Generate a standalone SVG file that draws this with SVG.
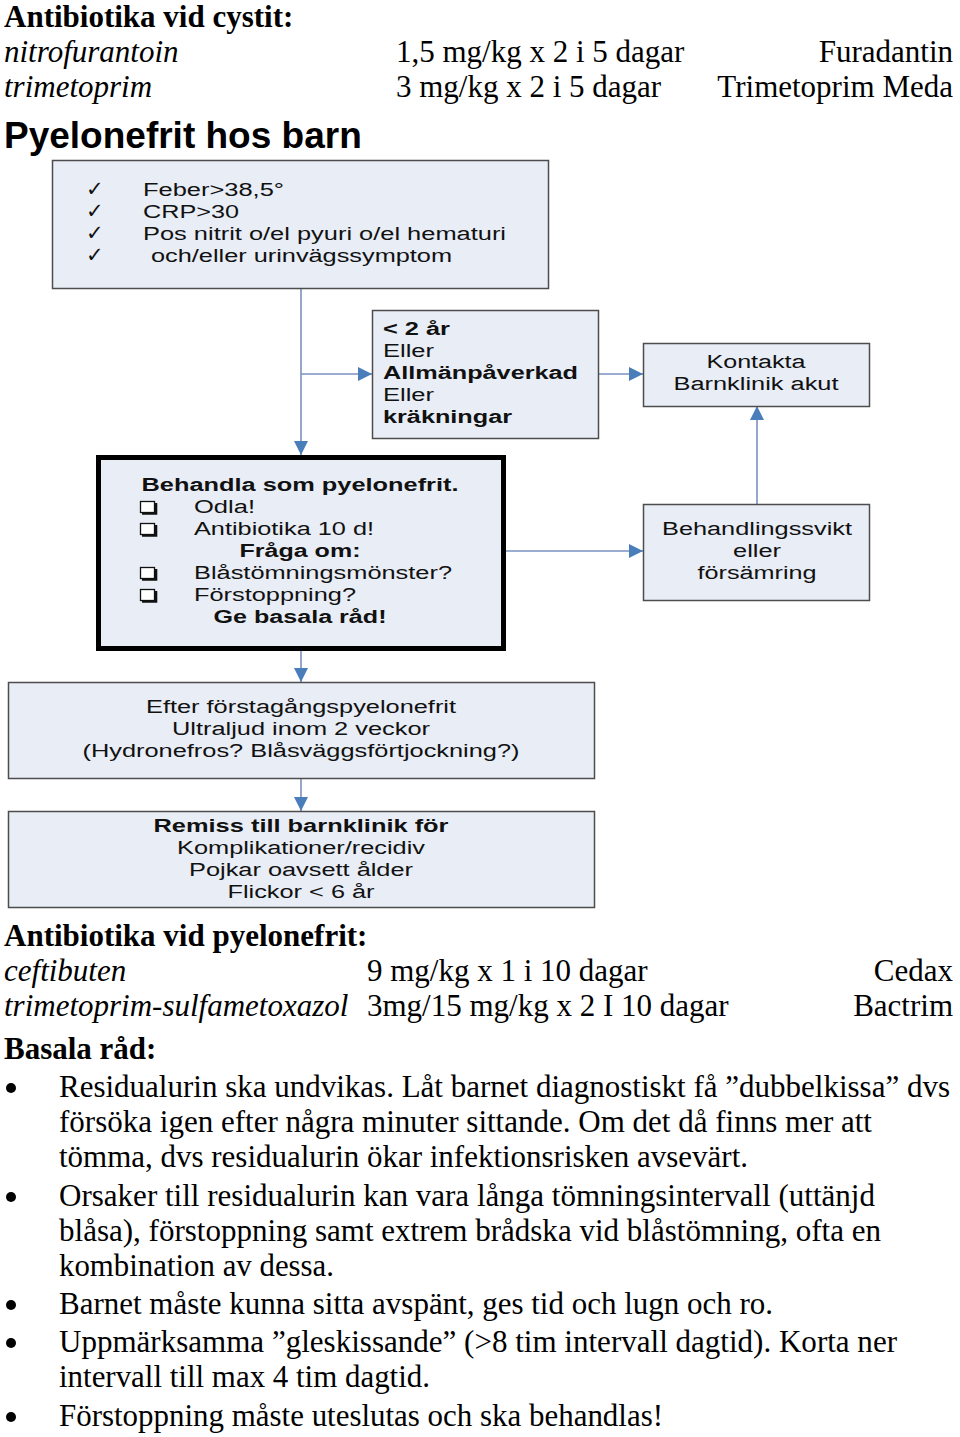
<svg xmlns="http://www.w3.org/2000/svg" width="960" height="1437" viewBox="0 0 960 1437">
<defs>
<marker id="arr" markerUnits="userSpaceOnUse" markerWidth="16" markerHeight="14" refX="14" refY="7" orient="auto">
<path d="M0,0 L14,7 L0,14 Z" fill="#4a7ebb"/>
</marker>
<g id="cb">
<rect x="1.5" y="1.5" width="14" height="11" fill="#fff" stroke="#111" stroke-width="1.3"/>
<path d="M3,13.5 H17 V3" fill="none" stroke="#111" stroke-width="2.6"/>
</g>
<style>
.s{font-family:"Liberation Serif","Times New Roman",serif;font-size:31px;fill:#000}
.i{font-style:italic}
.b{font-weight:bold}
.f{font-family:"Liberation Sans",Arial,sans-serif;font-size:18px;fill:#111}
.fb{font-weight:bold}
.c{text-anchor:middle}
.r{text-anchor:end}
.box{fill:#e8edf6;stroke:#4d4d4d;stroke-width:1.5}
.con{stroke:#7a92bf;stroke-width:1.6;fill:none;marker-end:url(#arr)}
.sym{font-family:"DejaVu Sans",sans-serif;font-size:21px;fill:#111}
.dot{fill:#000}
</style>
</defs>
<rect width="960" height="1437" fill="#fff"/>

<g id="header">
<text class="s b" x="4" y="27">Antibiotika vid cystit:</text>
<text class="s i" x="4" y="62">nitrofurantoin</text>
<text class="s" x="396" y="62">1,5 mg/kg x 2 i 5 dagar</text>
<text class="s r" x="953" y="62">Furadantin</text>
<text class="s i" x="4" y="97">trimetoprim</text>
<text class="s" x="396" y="97">3 mg/kg x 2 i 5 dagar</text>
<text class="s r" x="953" y="97">Trimetoprim Meda</text>
<text x="4" y="148" font-family="Liberation Sans, Arial, sans-serif" font-weight="bold" font-size="37" fill="#000">Pyelonefrit hos barn</text>
</g>

<g id="connectors">
<path class="con" d="M301,289 V455"/>
<path class="con" d="M301,374 H372"/>
<path class="con" d="M598,374 H643"/>
<path class="con" d="M757,504 V406"/>
<path class="con" d="M506,551 H643"/>
<path class="con" d="M301,651 V682"/>
<path class="con" d="M301,778 V811"/>
</g>

<g id="criteria">
<rect class="box" x="52.5" y="160.5" width="496" height="128"/>
<text class="sym" x="86" y="196">✓</text>
<text class="sym" x="86" y="218">✓</text>
<text class="sym" x="86" y="240">✓</text>
<text class="sym" x="86" y="262">✓</text>
<text class="f" x="143" y="196" textLength="141" lengthAdjust="spacingAndGlyphs">Feber&gt;38,5°</text>
<text class="f" x="143" y="218" textLength="96" lengthAdjust="spacingAndGlyphs">CRP&gt;30</text>
<text class="f" x="143" y="240" textLength="363" lengthAdjust="spacingAndGlyphs">Pos nitrit o/el pyuri o/el hematuri</text>
<text class="f" x="151" y="262" textLength="301" lengthAdjust="spacingAndGlyphs">och/eller urinvägssymptom</text>
</g>

<g id="risk">
<rect class="box" x="372.5" y="310.5" width="226" height="128"/>
<text class="f fb" x="383" y="335" textLength="67" lengthAdjust="spacingAndGlyphs">&lt; 2 år</text>
<text class="f" x="383" y="357" textLength="51" lengthAdjust="spacingAndGlyphs">Eller</text>
<text class="f fb" x="383" y="379" textLength="195" lengthAdjust="spacingAndGlyphs">Allmänpåverkad</text>
<text class="f" x="383" y="401" textLength="51" lengthAdjust="spacingAndGlyphs">Eller</text>
<text class="f fb" x="383" y="423" textLength="129" lengthAdjust="spacingAndGlyphs">kräkningar</text>
</g>

<g id="kontakta">
<rect class="box" x="643.5" y="343.5" width="226" height="63"/>
<text class="f c" x="756" y="368" textLength="99" lengthAdjust="spacingAndGlyphs">Kontakta</text>
<text class="f c" x="756" y="390" textLength="165" lengthAdjust="spacingAndGlyphs">Barnklinik akut</text>
</g>

<g id="svikt">
<rect class="box" x="643.5" y="504.5" width="226" height="96"/>
<text class="f c" x="757" y="535" textLength="190" lengthAdjust="spacingAndGlyphs">Behandlingssvikt</text>
<text class="f c" x="757" y="557" textLength="48" lengthAdjust="spacingAndGlyphs">eller</text>
<text class="f c" x="757" y="579" textLength="119" lengthAdjust="spacingAndGlyphs">försämring</text>
</g>

<g id="behandla">
<rect x="98.5" y="457.5" width="405" height="191" fill="#e8edf6" stroke="#000" stroke-width="5"/>
<text class="f fb c" x="300" y="491" textLength="317" lengthAdjust="spacingAndGlyphs">Behandla som pyelonefrit.</text>
<use href="#cb" x="139" y="500"/>
<use href="#cb" x="139" y="522"/>
<use href="#cb" x="139" y="566"/>
<use href="#cb" x="139" y="588"/>
<text class="f" x="194" y="513" textLength="61" lengthAdjust="spacingAndGlyphs">Odla!</text>
<text class="f" x="194" y="535" textLength="180" lengthAdjust="spacingAndGlyphs">Antibiotika 10 d!</text>
<text class="f fb c" x="300" y="557" textLength="121" lengthAdjust="spacingAndGlyphs">Fråga om:</text>
<text class="f" x="194" y="579" textLength="258" lengthAdjust="spacingAndGlyphs">Blåstömningsmönster?</text>
<text class="f" x="194" y="601" textLength="162" lengthAdjust="spacingAndGlyphs">Förstoppning?</text>
<text class="f fb c" x="300" y="623" textLength="173" lengthAdjust="spacingAndGlyphs">Ge basala råd!</text>
</g>

<g id="ultraljud">
<rect class="box" x="8.5" y="682.5" width="586" height="96"/>
<text class="f c" x="301" y="713" textLength="310" lengthAdjust="spacingAndGlyphs">Efter förstagångspyelonefrit</text>
<text class="f c" x="301" y="735" textLength="258" lengthAdjust="spacingAndGlyphs">Ultraljud inom 2 veckor</text>
<text class="f c" x="301" y="757" textLength="437" lengthAdjust="spacingAndGlyphs">(Hydronefros? Blåsväggsförtjockning?)</text>
</g>

<g id="remiss">
<rect class="box" x="8.5" y="811.5" width="586" height="96"/>
<text class="f fb c" x="301" y="832" textLength="295" lengthAdjust="spacingAndGlyphs">Remiss till barnklinik för</text>
<text class="f c" x="301" y="854" textLength="248" lengthAdjust="spacingAndGlyphs">Komplikationer/recidiv</text>
<text class="f c" x="301" y="876" textLength="224" lengthAdjust="spacingAndGlyphs">Pojkar oavsett ålder</text>
<text class="f c" x="301" y="898" textLength="147" lengthAdjust="spacingAndGlyphs">Flickor &lt; 6 år</text>
</g>

<g id="footer">
<text class="s b" x="4" y="946">Antibiotika vid pyelonefrit:</text>
<text class="s i" x="4" y="981">ceftibuten</text>
<text class="s" x="367" y="981">9 mg/kg x 1 i 10 dagar</text>
<text class="s r" x="953" y="981">Cedax</text>
<text class="s i" x="4" y="1016">trimetoprim-sulfametoxazol</text>
<text class="s" x="367" y="1016">3mg/15 mg/kg x 2 I 10 dagar</text>
<text class="s r" x="953" y="1016">Bactrim</text>
<text class="s b" x="4" y="1059">Basala råd:</text>
<circle class="dot" cx="11" cy="1088" r="5"/>
<text class="s" x="59" y="1097" textLength="891" lengthAdjust="spacingAndGlyphs">Residualurin ska undvikas. Låt barnet diagnostiskt få ”dubbelkissa” dvs</text>
<text class="s" x="59" y="1132" textLength="813" lengthAdjust="spacingAndGlyphs">försöka igen efter några minuter sittande. Om det då finns mer att</text>
<text class="s" x="59" y="1167" textLength="689" lengthAdjust="spacingAndGlyphs">tömma, dvs residualurin ökar infektionsrisken avsevärt.</text>
<circle class="dot" cx="11" cy="1197" r="5"/>
<text class="s" x="59" y="1206" textLength="816" lengthAdjust="spacingAndGlyphs">Orsaker till residualurin kan vara långa tömningsintervall (uttänjd</text>
<text class="s" x="59" y="1241" textLength="822" lengthAdjust="spacingAndGlyphs">blåsa), förstoppning samt extrem brådska vid blåstömning, ofta en</text>
<text class="s" x="59" y="1276" textLength="275" lengthAdjust="spacingAndGlyphs">kombination av dessa.</text>
<circle class="dot" cx="11" cy="1305" r="5"/>
<text class="s" x="59" y="1314" textLength="714" lengthAdjust="spacingAndGlyphs">Barnet måste kunna sitta avspänt, ges tid och lugn och ro.</text>
<circle class="dot" cx="11" cy="1343" r="5"/>
<text class="s" x="59" y="1352" textLength="838" lengthAdjust="spacingAndGlyphs">Uppmärksamma ”gleskissande” (&gt;8 tim intervall dagtid). Korta ner</text>
<text class="s" x="59" y="1387" textLength="371" lengthAdjust="spacingAndGlyphs">intervall till max 4 tim dagtid.</text>
<circle class="dot" cx="11" cy="1417" r="5"/>
<text class="s" x="59" y="1426" textLength="604" lengthAdjust="spacingAndGlyphs">Förstoppning måste uteslutas och ska behandlas!</text>
</g>
</svg>
